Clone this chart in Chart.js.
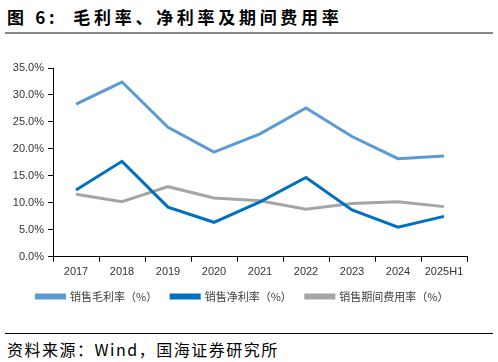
<!DOCTYPE html>
<html>
<head>
<meta charset="utf-8">
<script src="https://cdn.jsdelivr.net/npm/chart.js@4"></script>
<style>
  body { margin: 0; width: 498px; height: 362px; background: #fff; position: relative; overflow: hidden; }
  #title { position: absolute; left: 7px; top: 4px; font: bold 17px "Noto Sans CJK SC", sans-serif; color: #000; letter-spacing: 3.7px; }
  #topline { position: absolute; left: 5px; top: 32px; width: 488px; height: 2px; background: #888; }
  #wrap { position: absolute; left: 0; top: 50px; width: 498px; height: 268px; }
  #botline { position: absolute; left: 5px; top: 333px; width: 488px; height: 1px; background: #000; }
  #source { position: absolute; left: 7px; top: 337px; font: 16px "Noto Sans CJK SC", sans-serif; color: #000; letter-spacing: 1.5px; }
</style>
</head>
<body>
<div id="title">图 6:&nbsp; 毛利率、净利率及期间费用率</div>
<div id="topline"></div>
<div id="wrap"><canvas id="chart" width="498" height="268"></canvas></div>
<div id="botline"></div>
<div id="source">资料来源：Wind，国海证券研究所</div>
<script>
var years = ['2017', '2018', '2019', '2020', '2021', '2022', '2023', '2024', '2025H1'];
var grossMargin = [28.3, 32.4, 24.0, 19.4, 22.8, 27.6, 22.3, 18.2, 18.7];
var netMargin = [12.4, 17.7, 9.2, 6.4, 10.2, 14.7, 8.7, 5.5, 7.5];
var expenseRate = [11.6, 10.2, 13.0, 10.9, 10.4, 8.8, 9.9, 10.2, 9.3];

var ctx = document.getElementById('chart').getContext('2d');
function series(label, data, color) {
    return {
        label: label,
        data: data,
        borderColor: color,
        backgroundColor: color,
        borderWidth: 3,
        pointRadius: 0,
        tension: 0
    };
}

// nudge the legend a bit up and right, like in the original chart
var legendNudge = {
    id: 'legendNudge',
    afterLayout: function(chart) {
        var lg = chart.legend;
        lg.top -= 6; lg.bottom -= 6;
        lg.left += 9; lg.right += 9;
    }
};

window.chart = new Chart(ctx, {
    type: 'line',
    data: {
        labels: years,
        datasets: [
            series('销售毛利率（%）', grossMargin, '#5B9BD5'),
            series('销售净利率（%）', netMargin, '#0070C0'),
            series('销售期间费用率（%）', expenseRate, '#A5A5A5')
        ]
    },
    plugins: [legendNudge],
    options: {
        responsive: false,
        animation: false,
        layout: { padding: { top: 18, right: 31, left: 0, bottom: 0 } },
        plugins: {
            tooltip: { enabled: false },
            legend: {
                position: 'bottom',
                labels: {
                    boxWidth: 28,
                    boxHeight: 3,
                    padding: 14,
                    color: '#404040',
                    font: { size: 11, family: '"Noto Sans CJK SC", sans-serif' }
                }
            }
        },
        scales: {
            x: {
                offset: true,
                grid: { offset: true, drawOnChartArea: false, color: '#000', tickLength: 5 },
                border: { color: '#000', width: 1 },
                ticks: { color: '#333', padding: 4, font: { size: 11, family: '"Liberation Sans", Arial, sans-serif' } }
            },
            y: {
                min: 0,
                max: 35,
                afterFit: function(scale) { scale.width = 53; },
                grid: { drawOnChartArea: false, color: '#000', tickLength: 5 },
                border: { color: '#000', width: 1 },
                ticks: {
                    stepSize: 5,
                    color: '#333',
                    padding: 4,
                    font: { size: 11, family: '"Liberation Sans", Arial, sans-serif' },
                    callback: function(v) { return v.toFixed(1) + '%'; }
                }
            }
        }
    }
});
</script>
</body>
</html>
